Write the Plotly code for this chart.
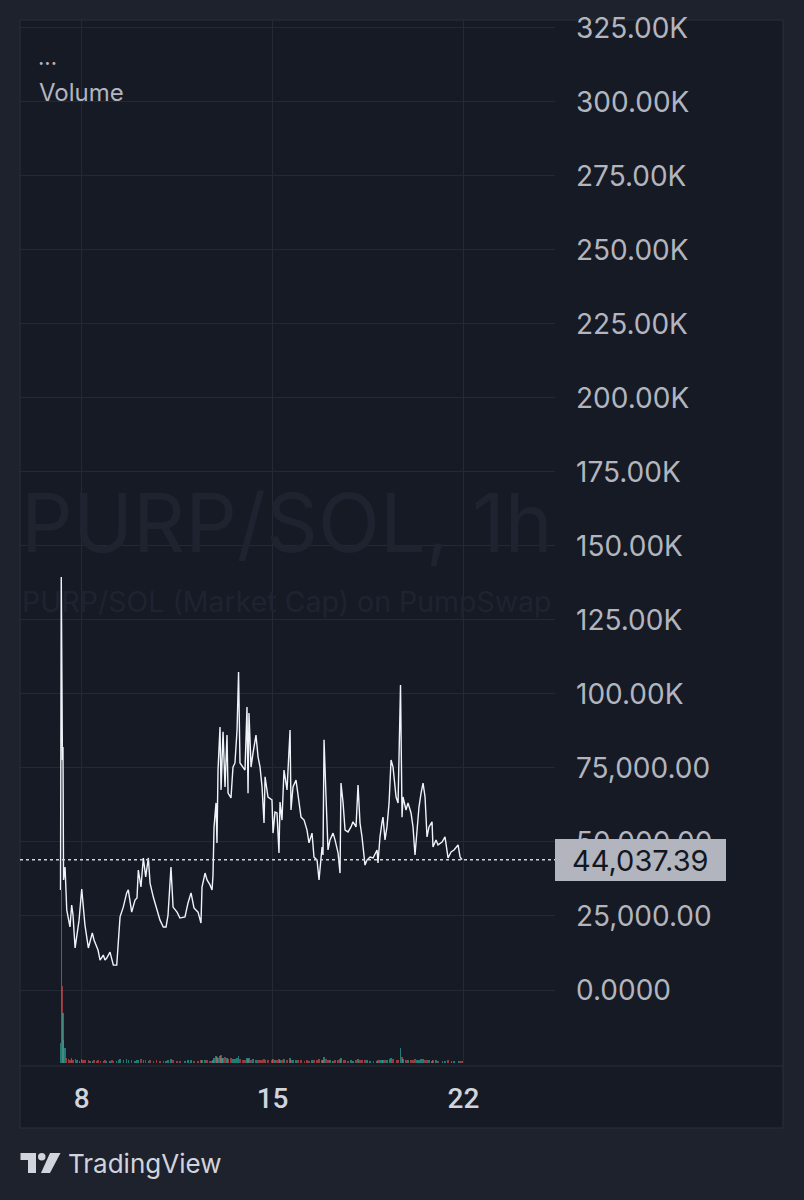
import plotly.graph_objects as go

# ---------------- data ----------------
times = [
    "2025-07-07 05:20", "2025-07-07 06:00", "2025-07-07 07:00", "2025-07-07 07:30", "2025-07-07 08:00",
    "2025-07-07 09:20", "2025-07-07 10:50", "2025-07-07 12:10", "2025-07-07 13:40", "2025-07-07 15:10",
    "2025-07-07 16:20", "2025-07-07 18:10", "2025-07-07 19:50", "2025-07-07 21:40", "2025-07-08 00:00",
    "2025-07-08 01:10", "2025-07-08 02:50", "2025-07-08 05:50", "2025-07-08 07:20", "2025-07-08 09:20",
    "2025-07-08 10:50", "2025-07-08 13:10", "2025-07-08 14:20", "2025-07-08 16:10", "2025-07-08 19:00",
    "2025-07-08 20:30", "2025-07-08 22:00", "2025-07-09 00:55", "2025-07-09 02:40", "2025-07-09 03:50",
    "2025-07-09 06:50", "2025-07-09 08:15", "2025-07-09 09:45", "2025-07-09 12:35", "2025-07-09 15:35",
    "2025-07-09 17:00", "2025-07-09 20:00", "2025-07-09 22:55", "2025-07-10 00:40", "2025-07-10 01:50",
    "2025-07-10 04:10", "2025-07-10 06:15", "2025-07-10 08:20", "2025-07-10 10:40", "2025-07-10 12:10",
    "2025-07-10 15:00", "2025-07-10 18:00", "2025-07-10 20:55", "2025-07-10 23:50", "2025-07-11 02:15",
    "2025-07-11 04:00", "2025-07-11 06:35", "2025-07-11 08:25", "2025-07-11 11:55", "2025-07-11 14:30",
    "2025-07-11 18:55", "2025-07-11 21:35", "2025-07-12 00:15", "2025-07-12 02:50", "2025-07-12 06:25",
    "2025-07-12 09:00", "2025-07-12 09:55", "2025-07-12 12:35", "2025-07-12 14:20", "2025-07-12 16:55",
    "2025-07-12 18:45", "2025-07-12 19:35", "2025-07-12 20:30", "2025-07-12 22:15", "2025-07-12 23:05",
    "2025-07-13 00:00", "2025-07-13 01:45", "2025-07-13 02:40", "2025-07-13 03:30", "2025-07-13 04:25",
    "2025-07-13 06:10", "2025-07-13 07:55", "2025-07-13 08:50", "2025-07-13 11:25", "2025-07-13 13:10",
    "2025-07-13 14:55", "2025-07-13 16:45", "2025-07-13 18:05", "2025-07-13 19:20", "2025-07-13 22:00",
    "2025-07-13 23:45", "2025-07-14 01:30", "2025-07-14 02:25", "2025-07-14 03:15", "2025-07-14 05:05",
    "2025-07-14 06:50", "2025-07-14 09:25", "2025-07-14 11:15", "2025-07-14 13:00", "2025-07-14 14:45",
    "2025-07-14 16:30", "2025-07-14 17:25", "2025-07-14 20:00", "2025-07-14 23:30", "2025-07-15 00:25",
    "2025-07-15 02:10", "2025-07-15 03:55", "2025-07-15 05:40", "2025-07-15 06:35", "2025-07-15 08:20",
    "2025-07-15 10:05", "2025-07-15 12:45", "2025-07-15 15:25", "2025-07-15 16:15", "2025-07-15 18:00",
    "2025-07-15 20:40", "2025-07-15 22:25", "2025-07-16 01:05", "2025-07-16 03:45", "2025-07-16 06:20",
    "2025-07-16 08:05", "2025-07-16 10:45", "2025-07-16 12:30", "2025-07-16 15:10", "2025-07-16 16:55",
    "2025-07-16 19:35", "2025-07-16 20:25", "2025-07-16 21:20", "2025-07-16 23:05", "2025-07-17 00:50",
    "2025-07-17 02:35", "2025-07-17 05:15", "2025-07-17 07:00", "2025-07-17 09:40", "2025-07-17 11:25",
    "2025-07-17 12:15", "2025-07-17 14:05", "2025-07-17 15:50", "2025-07-17 18:25", "2025-07-17 21:05",
    "2025-07-17 22:50", "2025-07-18 01:30", "2025-07-18 03:15", "2025-07-18 05:00", "2025-07-18 06:45",
    "2025-07-18 09:25", "2025-07-18 11:10", "2025-07-18 13:50", "2025-07-18 16:30", "2025-07-18 20:00",
    "2025-07-18 20:50", "2025-07-18 22:35", "2025-07-19 00:25", "2025-07-19 01:15", "2025-07-19 03:00",
    "2025-07-19 04:45", "2025-07-19 06:35", "2025-07-19 08:20", "2025-07-19 10:05", "2025-07-19 12:45",
    "2025-07-19 14:30", "2025-07-19 16:40", "2025-07-19 18:00", "2025-07-19 18:50", "2025-07-19 21:30",
    "2025-07-19 23:15", "2025-07-20 01:55", "2025-07-20 03:40", "2025-07-20 05:25", "2025-07-20 07:10",
    "2025-07-20 08:55", "2025-07-20 10:45", "2025-07-20 12:30", "2025-07-20 14:15", "2025-07-20 16:00",
    "2025-07-20 17:45", "2025-07-20 20:25", "2025-07-20 21:15", "2025-07-20 23:55", "2025-07-21 01:40",
    "2025-07-21 05:15", "2025-07-21 07:50", "2025-07-21 10:30", "2025-07-21 13:10", "2025-07-21 15:45",
    "2025-07-21 19:20", "2025-07-21 21:05", "2025-07-21 22:50",
]

market_cap = [
    33800, 139500, 77700, 82100, 37200,
    41500, 27000, 23600, 21300, 28700,
    25300, 14200, 18600, 23600, 34100,
    28700, 22000, 14200, 16900, 19300,
    16900, 14200, 13500, 10100, 11800,
    10100, 10800, 12800, 10100, 8400,
    8400, 15900, 24700, 28000, 32800,
    33800, 26300, 30400, 31100, 40500,
    34800, 44600, 38200, 44600, 36100,
    31400, 27000, 23600, 21300, 21300,
    25300, 41500, 28000, 26300, 24300,
    24700, 29400, 32800, 27700, 26300,
    22600, 34800, 39500, 37200, 35500,
    33800, 38800, 55100, 63200, 49700,
    74300, 88800, 67600, 75300, 87200,
    68600, 86100, 66500, 64900, 75300,
    76700, 87800, 107400, 76700, 75000,
    74300, 95600, 66500, 93600, 75300,
    80100, 86100, 78700, 75300, 68600,
    56400, 72000, 65200, 64200, 53000,
    60100, 59800, 46300, 63500, 57400,
    74300, 67600, 87800, 60800, 68600,
    70900, 66500, 58400, 57400, 54000,
    49700, 53000, 44900, 43900, 37200,
    48300, 45600, 84500, 65200, 47300,
    50700, 53000, 50700, 46300, 39500,
    69900, 63200, 54000, 53400, 55100,
    56800, 55100, 69200, 56400, 51700,
    42200, 43900, 44900, 44600, 47300,
    42900, 51700, 56800, 58400, 50700,
    55100, 63200, 77700, 75300, 65200,
    63200, 103000, 58400, 65200, 60800,
    63200, 59800, 55100, 45600, 55100,
    61800, 66500, 69900, 65200, 51700,
    55100, 56800, 48300, 50700, 49000,
    50000, 51700, 44600, 46600, 47300,
    49000, 44900, 44037.39,
]

volume = [
    60000, 520000, 230000, 150000, 70000, 45000,
    15000, 12000, 9000, 14000, 8000, 11000, 9000, 7000, 13000,
    9000, 8000, 10000, 6000, 7000, 9000, 6000, 8000, 7000, 6000, 9000, 7000, 6000, 8000, 7000, 6000,
    10000, 12000, 9000, 11000, 8000, 9000, 7000, 10000, 8000, 12000,
    9000, 8000, 7000, 9000, 6000, 8000, 7000, 6000, 7000, 8000,
    12000, 9000, 7000, 6000, 7000, 8000, 9000, 7000, 6000, 8000, 10000, 9000, 8000, 7000, 6000, 9000, 14000,
    22000, 18000, 15000, 20000, 24000, 16000, 14000, 18000, 15000, 13000,
    16000, 12000, 11000, 14000, 21000, 13000, 10000, 9000, 15000, 12000,
    14000, 10000, 11000, 9000, 10000, 8000, 9000, 12000, 10000,
    9000, 8000, 11000, 9000, 8000, 12000, 10000, 9000, 13000, 9000,
    16000, 10000, 9000, 8000, 9000, 8000, 7000, 8000, 7000, 9000,
    8000, 10000, 12000, 9000, 8000, 18000,
    11000, 9000, 8000, 7000, 8000, 9000, 12000, 14000, 10000, 8000,
    7000, 8000, 7000, 8000, 13000, 9000, 8000, 9000,
    8000, 7000, 6000, 7000, 8000, 9000, 10000, 9000, 8000, 9000,
    11000, 15000, 12000, 9000, 8000,
    45000,
    18000, 12000, 9000, 8000, 9000, 10000, 12000, 9000, 10000, 11000,
    12000, 9000, 10000, 8000, 7000, 9000, 8000, 7000, 7000, 6000,
    8000, 7000, 6000, 7000, 6000, 6000,
]

y_tickvals = [0, 25000, 50000, 75000, 100000, 125000, 150000, 175000,
              200000, 225000, 250000, 275000, 300000, 325000]
y_ticktext = ["0.0000", "25,000.00", "50,000.00", "75,000.00", "100.00K", "125.00K",
              "150.00K", "175.00K", "200.00K", "225.00K", "250.00K", "275.00K",
              "300.00K", "325.00K"]
x_tickvals = ["2025-07-08", "2025-07-15", "2025-07-22"]
x_ticktext = ["8", "15", "22"]

if not (len(times) == len(market_cap) == len(volume)):
    raise ValueError(f"length mismatch {len(times)} {len(market_cap)} {len(volume)}")

last_price = market_cap[-1]

# ---------------- geometry helpers (pixel -> paper) ----------------
W, H = 804, 1200
L, R, T, B = 20, 555, 20, 1063


def px(x):
    return (x - L) / (R - L)


def py(y):
    return (B - y) / (B - T)


BG_OUT = "#1e222d"
BG_IN = "#161a25"
GRID = "#252934"
BORDER = "#2a2e39"
TXT = "#b2b5be"
WM = "#1f2330"

vol_colors = [
    "rgba(38,166,154,0.7)" if i == 0 or market_cap[i] >= market_cap[i - 1] else "rgba(239,83,80,0.6)"
    for i in range(len(market_cap))
]

fig = go.Figure()
fig.add_trace(go.Bar(
    x=times, y=volume, yaxis="y2", width=3600 * 1000,
    marker=dict(color=vol_colors, line=dict(width=0)), hoverinfo="skip",
))
fig.add_trace(go.Scatter(
    x=times, y=market_cap, mode="lines",
    line=dict(color="#f0f3fa", width=1.4), hoverinfo="skip",
))

shapes = [
    dict(type="rect", xref="paper", yref="paper", x0=px(20), x1=px(783), y0=py(1128), y1=py(20),
         fillcolor=BG_IN, line=dict(color=BORDER, width=1), layer="below"),
    dict(type="line", xref="paper", yref="paper", x0=px(20), x1=px(783), y0=py(1066), y1=py(1066),
         line=dict(color=BORDER, width=1), layer="below"),
    dict(type="line", xref="paper", yref="y", x0=0, x1=1, y0=last_price, y1=last_price,
         line=dict(color="#d1d4dc", width=1.5, dash="dot"), layer="above"),
    dict(type="rect", xref="paper", yref="paper", x0=px(555), x1=px(726), y0=py(881), y1=py(839),
         fillcolor="#b2b5be", line=dict(width=0), layer="above"),
    dict(type="path", xref="paper", yref="paper",
         path=f"M {px(20.5)} {py(1153)} L {px(36)} {py(1153)} L {px(36)} {py(1173)} L {px(28)} {py(1173)} "
              f"L {px(28)} {py(1160)} L {px(20.5)} {py(1160)} Z",
         fillcolor="#d1d4dc", line=dict(width=0), layer="above"),
    dict(type="circle", xref="paper", yref="paper", x0=px(38), x1=px(45.5), y0=py(1160.5), y1=py(1153),
         fillcolor="#d1d4dc", line=dict(width=0), layer="above"),
    dict(type="path", xref="paper", yref="paper",
         path=f"M {px(50)} {py(1153)} L {px(60.5)} {py(1153)} L {px(50)} {py(1173)} L {px(41)} {py(1173)} Z",
         fillcolor="#d1d4dc", line=dict(width=0), layer="above"),
]

annotations = [
    dict(text="PURP/SOL, 1h", x=px(287), y=py(523), xref="paper", yref="paper", showarrow=False,
         xanchor="center", yanchor="middle", font=dict(family="Inter", size=81, color=WM)),
    dict(text="PURP/SOL (Market Cap) on PumpSwap", x=px(287), y=py(601), xref="paper", yref="paper",
         showarrow=False, xanchor="center", yanchor="middle",
         font=dict(family="Inter", size=28.5, color=WM)),
    dict(text="···", x=px(36), y=py(63), xref="paper", yref="paper", showarrow=False,
         xanchor="left", yanchor="middle", font=dict(family="Inter", size=22, color=TXT)),
    dict(text="Volume", x=px(37), y=py(92), xref="paper", yref="paper", showarrow=False,
         xanchor="left", yanchor="middle", font=dict(family="Inter", size=24, color=TXT)),
    dict(text=f"{last_price:,.2f}", x=px(640), y=py(860), xref="paper", yref="paper", showarrow=False,
         xanchor="center", yanchor="middle", font=dict(family="Inter", size=29, color="#131722")),
    dict(text="TradingView", x=px(66), y=py(1163), xref="paper", yref="paper", showarrow=False,
         xanchor="left", yanchor="middle", font=dict(family="Inter", size=26, color="#d1d4dc")),
]

fig.update_layout(
    width=W, height=H,
    margin=dict(l=L, r=W - R, t=T, b=H - B, pad=0),
    paper_bgcolor=BG_OUT, plot_bgcolor="rgba(0,0,0,0)",
    showlegend=False, bargap=0,
    shapes=shapes, annotations=annotations,
    xaxis=dict(
        type="date", range=["2025-07-05 17:40", "2025-07-25 08:40"],
        tickmode="array", tickvals=x_tickvals, ticktext=x_ticktext,
        showgrid=True, gridcolor=GRID, gridwidth=1, zeroline=False, showline=False, ticks="",
        tickfont=dict(family="Roboto", size=28, color="#d1d4dc", weight=500),
        ticklabelstandoff=16, fixedrange=True,
    ),
    yaxis=dict(
        range=[-24659, 327666], side="right",
        tickmode="array", tickvals=y_tickvals, ticktext=y_ticktext,
        showgrid=True, gridcolor=GRID, gridwidth=1, zeroline=False, showline=False, ticks="",
        tickfont=dict(family="Inter", size=28, color=TXT),
        ticklabelstandoff=20, fixedrange=True,
    ),
    yaxis2=dict(overlaying="y", range=[0, 3129000], visible=False, fixedrange=True),
)

fig.write_html(
    "out.html",
    config={"displayModeBar": False},
    post_script="document.body.style.margin='0px';document.body.style.background='#1e222d';",
)
